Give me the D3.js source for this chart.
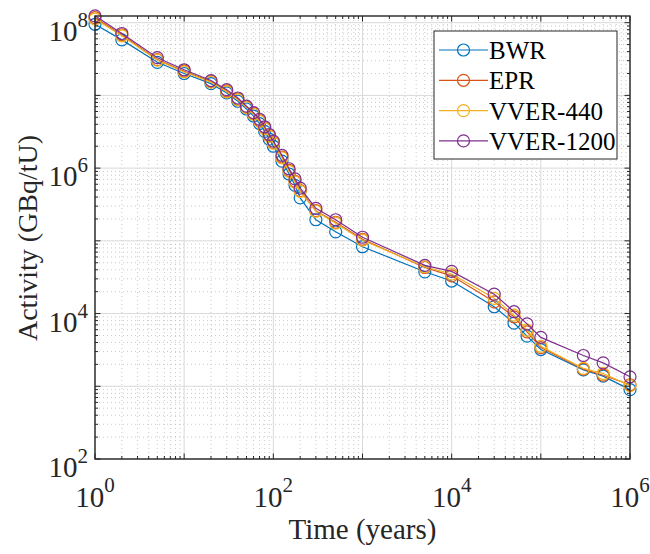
<!DOCTYPE html>
<html>
<head>
<meta charset="utf-8">
<script src="https://cdn.jsdelivr.net/npm/d3@7"></script>
<style>
  body { margin: 0; background: #fff; }
  svg { display: block; font-family: "Liberation Serif", "Times New Roman", serif; }
</style>
</head>
<body>
<svg id="chart" width="650" height="554"></svg>
<script>
// time points (years)
const years = [1, 2, 5, 10, 20, 30, 40, 50, 60, 70, 80, 90, 100, 125, 150, 175, 200, 300, 500, 1000,
    5000, 10000, 30000, 50000, 70000, 100000, 300000, 500000, 1000000];

// activity (GBq/tU) per reactor type
const bwr = [9.5e7, 5.8e7, 2.85e7, 2.0e7, 1.45e7, 1.08e7, 8.3e6, 6.5e6, 5.2e6, 4.1e6, 3.2e6, 2.5e6, 2.0e6,
    1.25e6, 8.3e5, 5.8e5, 3.9e5, 1.95e5, 1.33e5, 8.3e4, 3.75e4, 2.8e4, 1.24e4, 7.4e3, 4.9e3, 3.2e3, 1.68e3, 1.38e3, 900];
const epr = [1.17e8, 6.8e7, 3.1e7, 2.15e7, 1.55e7, 1.15e7, 8.9e6, 6.9e6, 5.6e6, 4.5e6, 3.55e6, 2.8e6, 2.25e6,
    1.42e6, 9.3e5, 6.6e5, 4.9e5, 2.6e5, 1.8e5, 1.05e5, 4.3e4, 3.3e4, 1.45e4, 9.0e3, 5.6e3, 3.4e3, 1.72e3, 1.42e3, 1050];
const vver440 = [1.12e8, 6.6e7, 3.05e7, 2.1e7, 1.52e7, 1.12e7, 8.7e6, 6.8e6, 5.5e6, 4.4e6, 3.5e6, 2.75e6, 2.2e6,
    1.38e6, 9.0e5, 6.4e5, 4.8e5, 2.55e5, 1.75e5, 1.02e5, 4.4e4, 3.5e4, 1.62e4, 9.5e3, 5.9e3, 3.55e3, 1.76e3, 1.5e3, 1020];
const vver1200 = [1.24e8, 7.1e7, 3.3e7, 2.25e7, 1.6e7, 1.2e7, 9.2e6, 7.1e6, 5.8e6, 4.7e6, 3.7e6, 2.9e6, 2.35e6,
    1.5e6, 9.8e5, 7.1e5, 5.3e5, 2.8e5, 1.95e5, 1.12e5, 4.6e4, 3.8e4, 1.85e4, 1.06e4, 7.2e3, 4.7e3, 2.65e3, 2.1e3, 1350];

const seriesNames = ["BWR", "EPR", "VVER-440", "VVER-1200"];
const seriesColors = ["#0072BD", "#D95319", "#EDB120", "#7E2F8E"];
const seriesValues = [bwr, epr, vver440, vver1200];

const xTickExps = [0, 2, 4, 6];
const yTickExps = [2, 4, 6, 8];

const svg = d3.select("#chart");
const pL = 95, pR = 630, pT = 16, pB = 459;

const x = d3.scaleLog().domain([1, 1e6]).range([pL, pR]);
const y = d3.scaleLog().domain([1e2, 1.235e8]).range([pB, pT]);

// minor / major values inside the domain
const minorX = [], minorY = [];
for (let e = 0; e < 6; e++) for (let m = 2; m <= 9; m++) minorX.push(m * 10 ** e);
for (let e = 2; e < 9; e++) for (let m = 2; m <= 9; m++) {
    const v = m * 10 ** e;
    if (v <= y.domain()[1]) minorY.push(v);
}
const majorX = d3.range(0, 7).map(e => 10 ** e);
const majorY = d3.range(2, 9).map(e => 10 ** e);

const grid = svg.append("g");
grid.selectAll(".mx").data(minorX).join("line")
    .attr("x1", d => x(d)).attr("x2", d => x(d)).attr("y1", pT).attr("y2", pB)
    .attr("stroke", "#bdbdbd").attr("stroke-width", 0.8).attr("stroke-dasharray", "1,3");
grid.selectAll(".my").data(minorY).join("line")
    .attr("y1", d => y(d)).attr("y2", d => y(d)).attr("x1", pL).attr("x2", pR)
    .attr("stroke", "#bdbdbd").attr("stroke-width", 0.8).attr("stroke-dasharray", "1,3");
grid.selectAll(".Mx").data(majorX).join("line")
    .attr("x1", d => x(d)).attr("x2", d => x(d)).attr("y1", pT).attr("y2", pB)
    .attr("stroke", "#d9d9d9").attr("stroke-width", 1);
grid.selectAll(".My").data(majorY).join("line")
    .attr("y1", d => y(d)).attr("y2", d => y(d)).attr("x1", pL).attr("x2", pR)
    .attr("stroke", "#d9d9d9").attr("stroke-width", 1);

// series
const line = d3.line().x((d, i) => x(years[i])).y(d => y(d));
seriesValues.forEach((vals, k) => {
    const g = svg.append("g");
    g.append("path").attr("d", line(vals)).attr("fill", "none")
        .attr("stroke", seriesColors[k]).attr("stroke-width", 1.2);
    g.selectAll("circle").data(vals).join("circle")
        .attr("cx", (d, i) => x(years[i])).attr("cy", d => y(d)).attr("r", 6)
        .attr("fill", "none").attr("stroke", seriesColors[k]).attr("stroke-width", 1.2);
});

// ticks on all four sides, pointing inward
const ax = svg.append("g").attr("stroke", "#262626").attr("stroke-width", 1);
const tickLen = 5.5, minorLen = 3;
majorX.forEach(v => {
    ax.append("line").attr("x1", x(v)).attr("x2", x(v)).attr("y1", pB).attr("y2", pB - tickLen);
    ax.append("line").attr("x1", x(v)).attr("x2", x(v)).attr("y1", pT).attr("y2", pT + tickLen);
});
minorX.forEach(v => {
    ax.append("line").attr("x1", x(v)).attr("x2", x(v)).attr("y1", pB).attr("y2", pB - minorLen);
    ax.append("line").attr("x1", x(v)).attr("x2", x(v)).attr("y1", pT).attr("y2", pT + minorLen);
});
majorY.forEach(v => {
    ax.append("line").attr("y1", y(v)).attr("y2", y(v)).attr("x1", pL).attr("x2", pL + tickLen);
    ax.append("line").attr("y1", y(v)).attr("y2", y(v)).attr("x1", pR).attr("x2", pR - tickLen);
});
minorY.forEach(v => {
    ax.append("line").attr("y1", y(v)).attr("y2", y(v)).attr("x1", pL).attr("x2", pL + minorLen);
    ax.append("line").attr("y1", y(v)).attr("y2", y(v)).attr("x1", pR).attr("x2", pR - minorLen);
});
svg.append("rect").attr("x", pL).attr("y", pT).attr("width", pR - pL).attr("height", pB - pT)
    .attr("fill", "none").attr("stroke", "#262626").attr("stroke-width", 1.4);

// tick labels 10^n
xTickExps.forEach(e => {
    const t = svg.append("text").attr("x", x(10 ** e)).attr("y", 507)
        .attr("text-anchor", "middle").attr("font-size", 29).attr("fill", "#262626");
    t.append("tspan").text("10");
    t.append("tspan").attr("dy", -15).attr("font-size", 21).text(e);
});
yTickExps.forEach(e => {
    const t = svg.append("text").attr("x", pL - 7).attr("y", y(10 ** e) + 18)
        .attr("text-anchor", "end").attr("font-size", 29).attr("fill", "#262626");
    t.append("tspan").text("10");
    t.append("tspan").attr("dy", -14).attr("font-size", 21).text(e);
});

// axis labels
svg.append("text").attr("x", (pL + pR) / 2).attr("y", 539).attr("text-anchor", "middle")
    .attr("font-size", 29).attr("fill", "#262626").text("Time (years)");
svg.append("text").attr("transform", `translate(37,238) rotate(-90)`)
    .attr("text-anchor", "middle").attr("font-size", 28).attr("fill", "#262626").text("Activity (GBq/tU)");

// legend
const lg = svg.append("g");
lg.append("rect").attr("x", 434).attr("y", 31).attr("width", 183).attr("height", 128)
    .attr("fill", "#fff").attr("stroke", "#262626").attr("stroke-width", 1);
seriesNames.forEach((name, k) => {
    const ly = 50 + k * 30.3;
    lg.append("line").attr("x1", 439).attr("x2", 488).attr("y1", ly).attr("y2", ly)
        .attr("stroke", seriesColors[k]).attr("stroke-width", 1.2);
    lg.append("circle").attr("cx", 463.5).attr("cy", ly).attr("r", 6)
        .attr("fill", "none").attr("stroke", seriesColors[k]).attr("stroke-width", 1.2);
    lg.append("text").attr("x", 489).attr("y", ly + 9).attr("font-size", 25)
        .attr("fill", "#000").text(name);
});
</script>
</body>
</html>
